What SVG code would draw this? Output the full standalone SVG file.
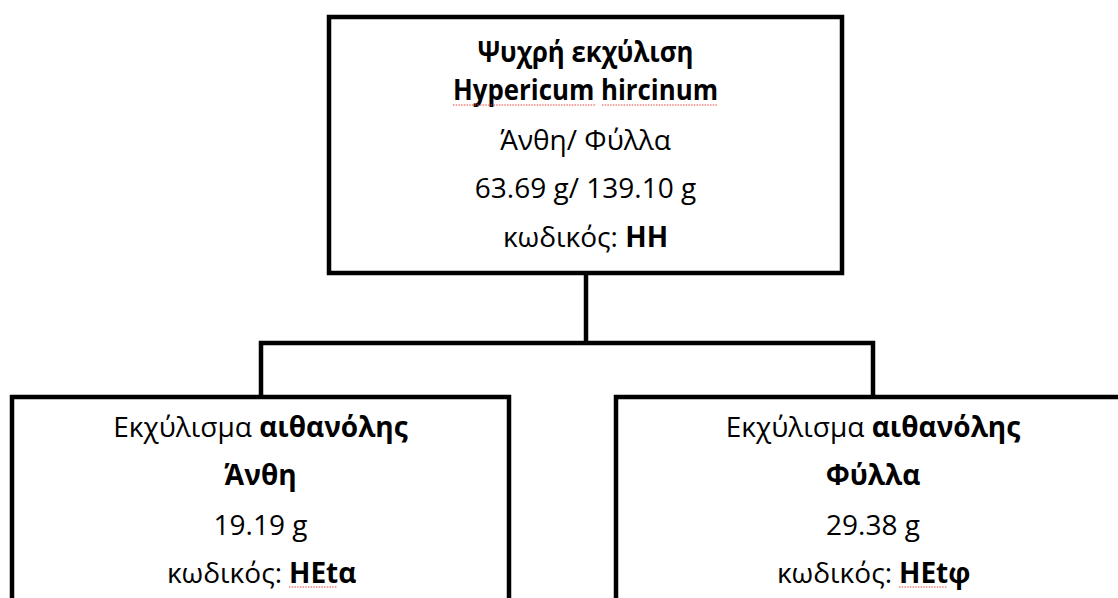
<svg xmlns="http://www.w3.org/2000/svg" width="1118" height="598" viewBox="0 0 1118 598">
  <style>
    .box { fill: #ffffff; stroke: #000000; stroke-width: 4.5; }
    .conn { fill: none; stroke: #000000; stroke-width: 4.5; stroke-linejoin: miter; }
    .t { font-family: "Open Sans", "Noto Sans", "DejaVu Sans", sans-serif; font-size: 28px; fill: #000000; }
    .c { text-anchor: middle; }
    .e { text-anchor: end; }
    .b { font-weight: 700; }
    .sq { fill: none; stroke: #e8463c; stroke-width: 1.1; stroke-dasharray: 1.5 1.2; }
  </style>
  <rect width="1118" height="598" fill="#ffffff"/>

  <g id="connectors">
    <path class="conn" d="M586,273 V343"/>
    <path class="conn" d="M261,397 V343 H873 V397"/>
  </g>

  <g id="node-root">
    <rect class="box" x="329" y="17" width="513" height="256"/>
    <text class="t c b" x="585.5" y="62" textLength="216" lengthAdjust="spacingAndGlyphs">Ψυχρή εκχύλιση</text>
    <text class="t c b" x="585.5" y="100" textLength="265" lengthAdjust="spacingAndGlyphs">Hypericum hircinum</text>
    <path class="sq" d="M453,105 H595 M602,105 H718"/>
    <text class="t c" x="585.5" y="150">Άνθη/ Φύλλα</text>
    <text class="t c" x="585.5" y="198">63.69 g/ 139.10 g</text>
    <text class="t c" x="585.5" y="247">κωδικός: <tspan class="b">HH</tspan></text>
  </g>

  <g id="node-flowers">
    <rect class="box" x="12" y="397" width="497" height="260"/>
    <text class="t c" x="260.5" y="437">Εκχύλισμα <tspan class="b">αιθανόλης</tspan></text>
    <text class="t c b" x="260.5" y="485">Άνθη</text>
    <text class="t c" x="260.5" y="535">19.19 g</text>
    <text class="t e" x="282" y="583">κωδικός:</text>
    <text class="t b" x="289" y="583">HEtα</text>
    <path class="sq" d="M289,587 H337"/>
  </g>

  <g id="node-leaves">
    <rect class="box" x="616" y="397" width="516" height="260"/>
    <text class="t c" x="873" y="437">Εκχύλισμα <tspan class="b">αιθανόλης</tspan></text>
    <text class="t c b" x="873" y="485">Φύλλα</text>
    <text class="t c" x="873" y="535">29.38 g</text>
    <text class="t e" x="892" y="583">κωδικός:</text>
    <text class="t b" x="899" y="583">HEtφ</text>
    <path class="sq" d="M899,587 H947"/>
  </g>
</svg>
